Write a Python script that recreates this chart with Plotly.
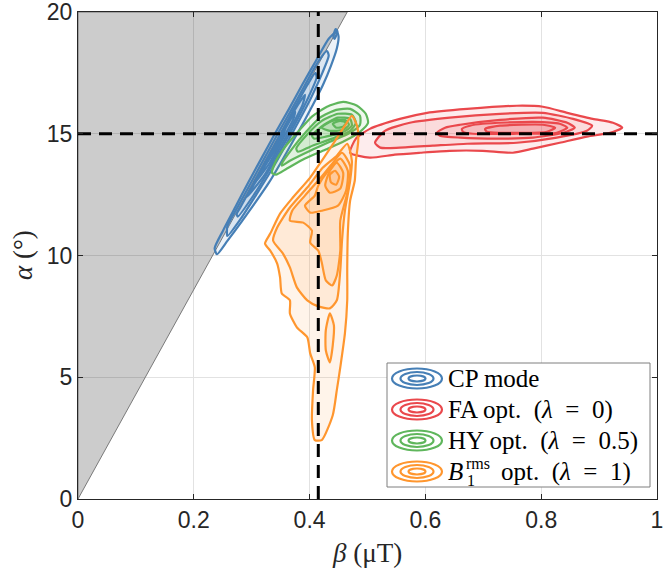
import plotly.graph_objects as go

# ---------------- data ----------------
X_TICKS = [0, 0.2, 0.4, 0.6, 0.8, 1]
X_TICK_LABELS = ["0", "0.2", "0.4", "0.6", "0.8", "1"]
Y_TICKS = [0, 5, 10, 15, 20]
Y_TICK_LABELS = ["0", "5", "10", "15", "20"]

# infeasible region (grey)
FORBIDDEN_BETA = [0, 0.465, 0]
FORBIDDEN_ALPHA = [0, 20, 20]

# reference (target) lines
REF_BETA = 0.415
REF_ALPHA = 15

# contour levels (outer -> inner)
CP_BETA = [
    [0.240, 0.258, 0.283, 0.307, 0.330, 0.350, 0.369, 0.388, 0.406, 0.423, 0.437, 0.447, 0.450, 0.447,
     0.433, 0.411, 0.387, 0.364, 0.340, 0.317, 0.294, 0.272, 0.250, 0.236],
    [0.258, 0.281, 0.308, 0.334, 0.358, 0.381, 0.403, 0.422, 0.433, 0.430,
     0.416, 0.392, 0.369, 0.345, 0.322, 0.299, 0.276, 0.258],
    [0.276, 0.304, 0.330, 0.354, 0.377, 0.398, 0.412, 0.410,
     0.396, 0.373, 0.350, 0.327, 0.304, 0.281, 0.274],
    [0.292, 0.322, 0.346, 0.369, 0.388, 0.392, 0.375, 0.352, 0.329, 0.306, 0.294],
    [0.306, 0.331, 0.354, 0.372, 0.375, 0.358, 0.335, 0.316],
    [0.320, 0.340, 0.356, 0.357, 0.343, 0.327],
    [0.443, 0.448, 0.445, 0.441],
]
CP_ALPHA = [
    [10.05, 10.6, 11.4, 12.2, 13.0, 13.8, 14.6, 15.4, 16.2, 17.0, 17.8, 18.5, 19.0, 19.2,
     18.9, 18.0, 17.0, 16.0, 15.0, 14.0, 13.0, 12.0, 11.0, 10.3],
    [10.8, 11.5, 12.5, 13.5, 14.5, 15.5, 16.5, 17.5, 18.2, 18.4,
     18.0, 17.0, 16.0, 15.0, 14.0, 13.0, 12.0, 11.2],
    [11.6, 12.5, 13.5, 14.5, 15.5, 16.5, 17.3, 17.5,
     17.0, 16.0, 15.0, 14.0, 13.0, 12.0, 11.7],
    [12.4, 13.3, 14.3, 15.3, 16.2, 16.6, 16.0, 15.0, 14.0, 13.0, 12.5],
    [13.0, 13.8, 14.8, 15.6, 15.9, 15.2, 14.2, 13.4],
    [13.6, 14.3, 15.0, 15.2, 14.6, 13.9],
    [18.9, 19.2, 19.3, 19.0],
]

FA_BETA = [
    [0.470, 0.480, 0.504, 0.556, 0.603, 0.672, 0.758, 0.803, 0.845, 0.889, 0.924, 0.940, 0.919,
     0.879, 0.832, 0.786, 0.751, 0.699, 0.642, 0.591, 0.547, 0.504],
    [0.513, 0.530, 0.573, 0.642, 0.729, 0.803, 0.855, 0.888, 0.879, 0.827, 0.758, 0.672, 0.613,
     0.556, 0.522],
    [0.620, 0.634, 0.660, 0.729, 0.803, 0.845, 0.858, 0.838, 0.786, 0.729, 0.660, 0.625],
    [0.663, 0.677, 0.699, 0.786, 0.832, 0.845, 0.827, 0.758, 0.682, 0.665],
    [0.703, 0.729, 0.803, 0.824, 0.810, 0.729, 0.706],
]
FA_ALPHA = [
    [14.22, 14.80, 15.20, 15.61, 15.86, 16.02, 16.15, 16.11, 15.86, 15.61, 15.45, 15.25, 15.04,
     14.88, 14.63, 14.39, 14.22, 14.30, 14.30, 14.22, 14.14, 14.02],
    [14.63, 15.12, 15.45, 15.66, 15.82, 15.86, 15.61, 15.33, 15.12, 14.84, 14.63, 14.59, 14.51,
     14.43, 14.43],
    [15.04, 15.25, 15.37, 15.57, 15.66, 15.45, 15.25, 15.04, 14.84, 14.80, 14.84, 14.92],
    [15.20, 15.33, 15.41, 15.49, 15.41, 15.25, 15.04, 15.00, 15.00, 15.08],
    [15.20, 15.33, 15.37, 15.25, 15.08, 15.04, 15.08],
]

HY_BETA = [
    [0.335, 0.342, 0.358, 0.380, 0.404, 0.430, 0.458, 0.482, 0.497, 0.501, 0.487, 0.461, 0.427,
     0.392, 0.361, 0.342],
    [0.352, 0.370, 0.394, 0.418, 0.446, 0.470, 0.487, 0.487, 0.470, 0.435, 0.401, 0.366, 0.352],
    [0.377, 0.397, 0.421, 0.449, 0.473, 0.480, 0.470, 0.439, 0.401, 0.380],
    [0.404, 0.425, 0.449, 0.470, 0.473, 0.459, 0.428, 0.408],
    [0.421, 0.439, 0.461, 0.468, 0.458, 0.435],
    [0.440, 0.453, 0.463, 0.458, 0.446],
]
HY_ALPHA = [
    [13.40, 13.89, 14.47, 15.08, 15.70, 16.11, 16.31, 16.15, 15.82, 15.45, 15.08, 14.71, 14.34,
     13.98, 13.57, 13.32],
    [13.77, 14.39, 15.08, 15.66, 15.98, 16.02, 15.74, 15.37, 15.04, 14.67, 14.30, 13.89, 13.69],
    [14.39, 15.00, 15.53, 15.82, 15.78, 15.45, 15.12, 14.80, 14.47, 14.26],
    [14.92, 15.37, 15.66, 15.61, 15.33, 15.08, 14.88, 14.80],
    [15.25, 15.53, 15.57, 15.37, 15.16, 15.12],
    [15.41, 15.53, 15.45, 15.29, 15.25],
]

B1_BETA = [
    [0.473, 0.482, 0.484, 0.480, 0.478, 0.470, 0.466, 0.465, 0.465, 0.461, 0.453, 0.447, 0.440,
     0.421, 0.409, 0.404, 0.406, 0.409, 0.401, 0.396, 0.378, 0.366, 0.366, 0.352, 0.349, 0.344,
     0.332, 0.323, 0.332, 0.349, 0.371, 0.401, 0.421, 0.444, 0.461],
    [0.465, 0.473, 0.470, 0.461, 0.456, 0.453, 0.447, 0.435, 0.415, 0.396, 0.378, 0.366, 0.354,
     0.337, 0.344, 0.366, 0.396, 0.423, 0.447],
    [0.456, 0.470, 0.466, 0.453, 0.453, 0.447, 0.439, 0.428, 0.421, 0.415, 0.401, 0.404, 0.389,
     0.366, 0.370, 0.392, 0.418, 0.439],
    [0.453, 0.466, 0.463, 0.449, 0.421, 0.401, 0.392, 0.409, 0.415, 0.432],
    [0.447, 0.458, 0.453, 0.435, 0.427, 0.435],
    [0.444, 0.451, 0.446, 0.437, 0.435],
    [0.435, 0.442, 0.440, 0.435, 0.428, 0.428],
]
B1_ALPHA = [
    [15.74, 15.33, 14.71, 13.89, 13.07, 12.25, 10.90, 9.51, 8.16, 6.80, 5.41, 4.47, 3.44,
     2.42, 2.42, 3.24, 4.47, 5.41, 5.98, 6.64, 7.05, 7.62, 8.16, 8.44, 9.10, 9.67,
     10.20, 10.49, 10.90, 11.72, 12.38, 13.20, 13.89, 14.71, 15.33],
    [14.59, 13.89, 13.07, 11.84, 10.61, 9.39, 8.16, 7.83, 7.91, 8.16, 8.69, 9.51, 10.08,
     10.61, 11.15, 11.97, 12.79, 13.61, 14.10],
    [14.22, 13.69, 12.66, 11.43, 10.20, 9.18, 8.77, 8.98, 9.71, 10.20, 10.53, 11.02, 11.35,
     11.43, 11.84, 12.46, 13.16, 13.77],
    [13.98, 13.48, 12.66, 12.05, 11.84, 11.76, 12.05, 12.46, 12.87, 13.48],
    [13.81, 13.40, 12.75, 12.58, 12.87, 13.48],
    [13.48, 13.24, 12.91, 13.00, 13.32],
    [7.62, 7.13, 6.31, 5.61, 6.11, 6.93],
]

SERIES_NAMES = ["CP mode", "FA opt.", "HY opt.", "B1rms opt."]
SERIES_LAMBDA = [None, "0", "0.5", "1"]
SERIES_COLORS = [(70, 127, 182), (234, 72, 76), (95, 182, 92), (255, 150, 46)]
SERIES_BETA = [CP_BETA, FA_BETA, HY_BETA, B1_BETA]
SERIES_ALPHA = [CP_ALPHA, FA_ALPHA, HY_ALPHA, B1_ALPHA]

# ---------------- figure ----------------
W, H = 664, 577
ML, MR, MT, MB = 78, 7, 12, 78
PW, PH = W - ML - MR, H - MT - MB


def px_x(px):
    return (px - ML) / PW


def px_y(py):
    return (MT + PH - py) / PH


fig = go.Figure()

fig.add_trace(go.Scatter(
    x=FORBIDDEN_BETA + [FORBIDDEN_BETA[0]], y=FORBIDDEN_ALPHA + [FORBIDDEN_ALPHA[0]],
    mode="lines", fill="toself", fillcolor="rgba(0,0,0,0.2)",
    line=dict(color="rgba(110,110,110,0.9)", width=1), hoverinfo="skip", showlegend=False))

for name, col, bl, al in zip(SERIES_NAMES, SERIES_COLORS, SERIES_BETA, SERIES_ALPHA):
    r, g, b = col
    for xs, ys in zip(bl, al):
        fig.add_trace(go.Scatter(
            x=xs + [xs[0]], y=ys + [ys[0]], mode="lines", fill="toself",
            fillcolor=f"rgba({r},{g},{b},0.1)",
            line=dict(color=f"rgb({r},{g},{b})", width=2.2, shape="spline", smoothing=0.6),
            name=name, showlegend=False, hoverinfo="skip"))

fig.add_trace(go.Scatter(x=[REF_BETA, REF_BETA], y=[0, 20], mode="lines",
                         line=dict(color="black", width=3, dash="13px,8px"),
                         showlegend=False, hoverinfo="skip"))
fig.add_trace(go.Scatter(x=[0, 1], y=[REF_ALPHA, REF_ALPHA], mode="lines",
                         line=dict(color="black", width=3, dash="13px,8px"),
                         showlegend=False, hoverinfo="skip"))

axis_common = dict(showgrid=True, gridcolor="#e2e2e2", gridwidth=1, zeroline=False,
                   showline=True, linecolor="#262626", linewidth=1, mirror="allticks",
                   ticks="inside", ticklen=5, tickcolor="#262626", automargin=False,
                   ticklabeloverflow="allow",
                   tickfont=dict(family="Liberation Sans, Arial, sans-serif", size=23, color="#262626"))

fig.update_xaxes(range=[0, 1], tickvals=X_TICKS, ticktext=X_TICK_LABELS, **axis_common)
fig.update_yaxes(range=[0, 20], tickvals=Y_TICKS, ticktext=Y_TICK_LABELS, **axis_common)

# ---------- legend (drawn) ----------
shapes = []
annotations = []
serif = "Liberation Serif, Times New Roman, serif"
shapes.append(dict(type="rect", xref="paper", yref="paper",
                   x0=px_x(387), x1=px_x(650), y0=px_y(487), y1=px_y(363),
                   fillcolor="white", line=dict(color="#7f7f7f", width=1), layer="above"))
row_y = [378.5, 409.5, 440.5, 471.5]
SP = "&nbsp;"
for i, (name, col, lam) in enumerate(zip(SERIES_NAMES, SERIES_COLORS, SERIES_LAMBDA)):
    cy = row_y[i]
    r, g, b = col
    for (hw, hh) in [(25, 10), (16.5, 6.5), (8.5, 3)]:
        shapes.append(dict(type="circle", xref="paper", yref="paper",
                           x0=px_x(417 - hw), x1=px_x(417 + hw),
                           y0=px_y(cy + hh), y1=px_y(cy - hh),
                           line=dict(color=f"rgb({r},{g},{b})", width=2.2), layer="above"))
    lam_txt = "" if lam is None else f"{SP}{SP}(<i>λ</i>{SP}{SP}={SP}{SP}{lam})"
    if i == 3:
        annotations.append(dict(x=px_x(446), y=px_y(cy), xref="paper", yref="paper",
                                text="<i>B</i>", showarrow=False, xanchor="left", yanchor="middle",
                                font=dict(family=serif, size=25, color="black")))
        annotations.append(dict(x=px_x(464), y=px_y(cy - 8), xref="paper", yref="paper",
                                text="rms", showarrow=False, xanchor="left", yanchor="middle",
                                font=dict(family=serif, size=16, color="black")))
        annotations.append(dict(x=px_x(465), y=px_y(cy + 9), xref="paper", yref="paper",
                                text="1", showarrow=False, xanchor="left", yanchor="middle",
                                font=dict(family=serif, size=16, color="black")))
        annotations.append(dict(x=px_x(499), y=px_y(cy), xref="paper", yref="paper",
                                text="opt." + lam_txt, showarrow=False,
                                xanchor="left", yanchor="middle",
                                font=dict(family=serif, size=25, color="black")))
    else:
        annotations.append(dict(x=px_x(446), y=px_y(cy), xref="paper", yref="paper",
                                text=name + lam_txt, showarrow=False, xanchor="left", yanchor="middle",
                                font=dict(family=serif, size=25, color="black")))

# axis titles
annotations.append(dict(x=px_x(367), y=px_y(553), xref="paper", yref="paper",
                        text="<i>β</i> (μT)", showarrow=False, xanchor="center", yanchor="middle",
                        font=dict(family=serif, size=27, color="#262626")))
annotations.append(dict(x=px_x(23), y=px_y(255), xref="paper", yref="paper",
                        text="<i>α</i> (°)", showarrow=False, xanchor="center", yanchor="middle",
                        textangle=-90, font=dict(family=serif, size=27, color="#262626")))

fig.update_layout(width=W, height=H, margin=dict(l=ML, r=MR, t=MT, b=MB, autoexpand=False),
                  plot_bgcolor="white", paper_bgcolor="white",
                  shapes=shapes, annotations=annotations, showlegend=False)

fig.write_html("out.html", config={"displayModeBar": False, "staticPlot": True},
               post_script="document.body.style.margin='0';document.body.style.overflow='hidden';")
